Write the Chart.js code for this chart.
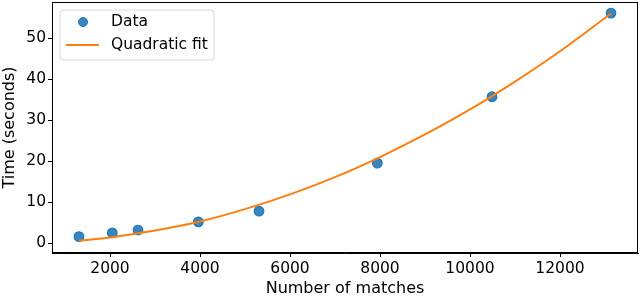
<!DOCTYPE html>
<html><head><meta charset="utf-8">
<script src="https://cdn.jsdelivr.net/npm/chart.js@4.4.1/dist/chart.umd.min.js"></script>
<style>html,body{margin:0;padding:0;background:#fff}#wrap{width:640px;height:298px}</style>
</head><body><div id="wrap"><canvas id="c" width="640" height="298"></canvas></div>
<script>
const matches = [1311, 2051, 2622, 3963, 5311, 7940, 10489, 13133];
const times = [1.6, 2.5, 3.2, 5.2, 7.8, 19.5, 35.7, 56.1];
const fitX = [1311, 2000, 3000, 4000, 5000, 6000, 7000, 8000, 9000, 10000, 11000, 12000, 13133];
const fitY = [0.6, 1.4, 3.1, 5.3, 8.3, 11.9, 16.1, 21.0, 26.5, 32.6, 39.4, 46.8, 56.0];
const xTicks = [2000, 4000, 6000, 8000, 10000, 12000];
const yTicks = [0, 10, 20, 30, 40, 50];
const seriesLabels = ["Data", "Quadratic fit"];

const FONT = "'DejaVu Sans', sans-serif";
Chart.defaults.font.family = FONT;
Chart.defaults.font.size = 15.5;
Chart.defaults.color = '#000';

const frame = {
  id: 'frame',
  afterDatasetsDraw(chart) {
    const {ctx, chartArea: a} = chart;
    ctx.save();
    ctx.strokeStyle = '#000'; ctx.lineWidth = 1;
    ctx.strokeRect(Math.round(a.left) + 0.5, Math.round(a.top) + 0.5, Math.round(a.right - a.left) - 1, Math.round(a.bottom - a.top) - 1);
    // legend
    const lx = a.left + 8, ly = a.top + 8, lw = 154, lh = 50;
    ctx.fillStyle = 'rgba(255,255,255,0.8)';
    ctx.strokeStyle = '#d9d9d9';
    ctx.beginPath();
    const r = 3;
    ctx.moveTo(lx + r, ly); ctx.arcTo(lx + lw, ly, lx + lw, ly + lh, r);
    ctx.arcTo(lx + lw, ly + lh, lx, ly + lh, r); ctx.arcTo(lx, ly + lh, lx, ly, r);
    ctx.arcTo(lx, ly, lx + lw, ly, r); ctx.closePath();
    ctx.fill(); ctx.stroke();
    // marker
    ctx.beginPath(); ctx.arc(lx + 23, ly + 12, 4.5, 0, Math.PI * 2);
    ctx.fillStyle = '#3a85c0'; ctx.fill();
    ctx.strokeStyle = '#1f77b4'; ctx.lineWidth = 1; ctx.stroke();
    ctx.beginPath(); ctx.moveTo(lx + 6, ly + 35); ctx.lineTo(lx + 39, ly + 35);
    ctx.strokeStyle = '#ff7f0e'; ctx.lineWidth = 2; ctx.stroke();
    ctx.fillStyle = '#000'; ctx.font = '15.5px ' + FONT; ctx.textBaseline = 'middle';
    ctx.fillText(seriesLabels[0], lx + 51, ly + 12);
    ctx.fillText(seriesLabels[1], lx + 51, ly + 35);
    ctx.restore();
  }
};

new Chart(document.getElementById('c'), {
  type: 'scatter',
  data: {
    datasets: [
      { label: seriesLabels[0], data: matches.map((x, i) => ({x, y: times[i]})),
        backgroundColor: '#3a85c0', borderColor: '#1f77b4', borderWidth: 1.2,
        pointRadius: 4.8, order: 1, clip: false },
      { label: seriesLabels[1], data: fitX.map((x, i) => ({x, y: fitY[i]})),
        showLine: true, borderColor: '#ff7f0e', borderWidth: 2, pointRadius: 0,
        cubicInterpolationMode: 'monotone', fill: false, order: 0 }
    ]
  },
  options: {
    responsive: false, animation: false,
    layout: { autoPadding: false, padding: { top: 2, right: 2, left: 0, bottom: 0 } },
    plugins: { legend: { display: false }, tooltip: { enabled: false } },
    scales: {
      x: {
        type: 'linear', min: 711, max: 13733,
        afterBuildTicks: s => { s.ticks = xTicks.map(v => ({value: v})); },
        afterFit: s => { s.height = 45; s.paddingLeft = 0; s.paddingRight = 0; },
        ticks: { padding: 3, callback: v => String(v), maxRotation: 0 },
        grid: { drawOnChartArea: false, drawTicks: true, tickLength: 4, color: '#000' },
        border: { display: true, color: '#000' },
        title: { display: true, text: 'Number of matches', font: { size: 16 }, padding: { top: 0, bottom: 0 } }
      },
      y: {
        type: 'linear', min: -2.4, max: 58.8,
        afterBuildTicks: s => { s.ticks = yTicks.map(v => ({value: v})); },
        afterFit: s => { s.width = 52; s.paddingTop = 0; s.paddingBottom = 0; },
        ticks: { padding: 2, callback: v => String(v) },
        grid: { drawOnChartArea: false, drawTicks: true, tickLength: 4, color: '#000' },
        border: { display: true, color: '#000' },
        title: { display: true, text: 'Time (seconds)', font: { size: 16 }, padding: { top: 0, bottom: 0 } }
      }
    }
  },
  plugins: [frame]
});
</script></body></html>
